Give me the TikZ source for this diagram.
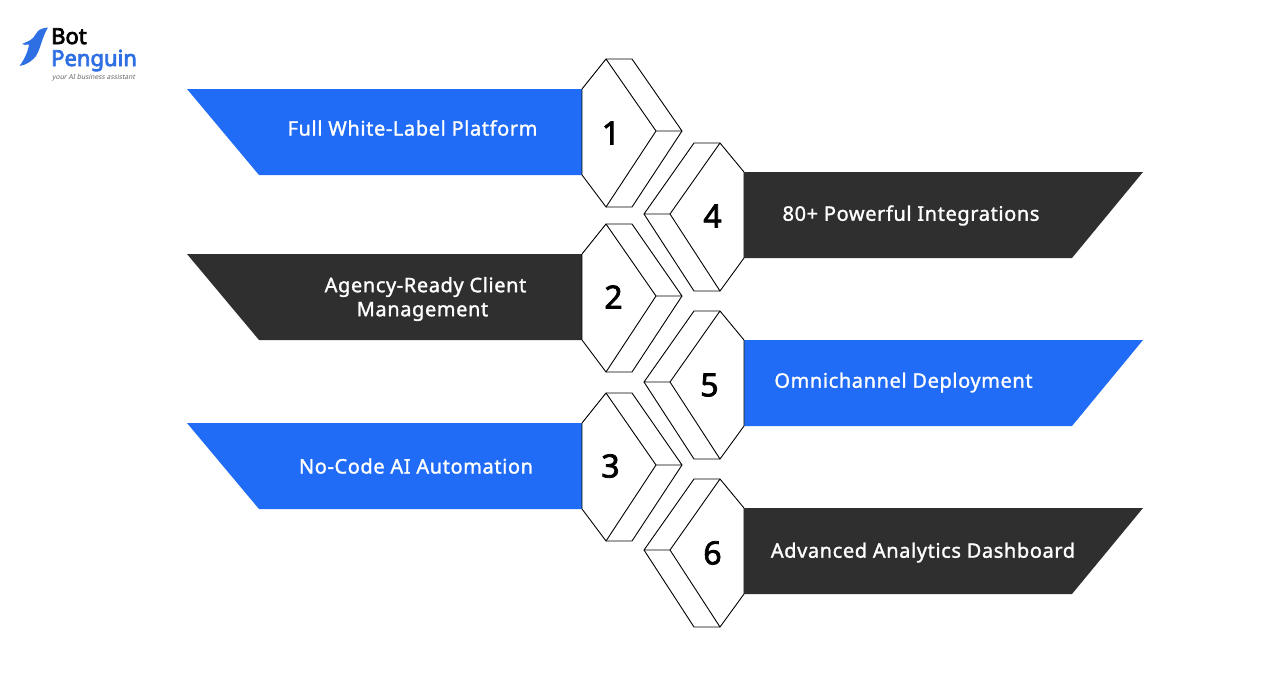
\documentclass[tikz,border=0pt]{standalone}
\usepackage{fontspec}
\setmainfont{Noto Sans}
\newfontfamily\medfont[FakeBold=1.4,LetterSpace=3]{Noto Sans}
\newfontfamily\numfont[FakeBold=2.4]{Noto Sans}
\newfontfamily\logofont[FakeBold=3.4]{Noto Sans}
\newfontfamily\tagfont[FakeSlant=0.2]{Noto Sans}
\definecolor{bpblue}{HTML}{206CF6}
\definecolor{bpdark}{HTML}{2F2F2F}
\definecolor{logoblue}{HTML}{2F6FE4}
\tikzset{
  bannerfill/.style={fill=#1,draw=none},
  hexline/.style={draw=black,line width=0.9pt,line join=round,fill=white},
  bantext/.style={text=white,font=\fontsize{20}{24}\selectfont\medfont,align=center,inner sep=0pt},
  numtext/.style={text=black,font=\fontsize{32}{36}\selectfont\numfont,inner sep=0pt},
}
\newcommand{\leftrow}[2]{%
  \begin{scope}[yshift=-#1pt]
    \path[bannerfill=#2] (187,89) -- (582,89) -- (582,175) -- (259,175) -- cycle;
    \draw[hexline] (582,89) -- (606,59) -- (632,59) -- (682,131) -- (656,131) -- (606,207) -- (582,175) -- cycle;
    \draw[hexline,fill=none] (606,59) -- (656,131);
    \draw[hexline,fill=none] (606,207) -- (632,207) -- (682,131);
  \end{scope}}
\newcommand{\rightrow}[2]{%
  \begin{scope}[yshift=-#1pt]
    \path[bannerfill=#2] (744,172) -- (1143,172) -- (1072,258) -- (744,258) -- cycle;
    \draw[hexline] (744,172) -- (720,143) -- (694,143) -- (644,214) -- (670,214) -- (720,291) -- (744,258) -- cycle;
    \draw[hexline,fill=none] (720,143) -- (670,214);
    \draw[hexline,fill=none] (720,291) -- (694,291) -- (644,214);
  \end{scope}}
\begin{document}
\begin{tikzpicture}[x=1pt,y=-1pt]
\useasboundingbox (0,0) rectangle (1288,686);
\fill[white] (0,0) rectangle (1288,686);
\leftrow{0}{bpblue}
\leftrow{165}{bpdark}
\leftrow{334}{bpblue}
\rightrow{0}{bpdark}
\rightrow{168}{bpblue}
\rightrow{336}{bpdark}
\node[numtext] (n1) at (611,133) {1};
\node[numtext] (n2) at (613.5,297) {2};
\node[numtext] (n3) at (610.5,466) {3};
\node[numtext] (n4) at (712.5,216) {4};
\node[numtext] (n5) at (709.5,385) {5};
\node[numtext] (n6) at (712.5,553) {6};
\node[bantext] (t1) at (412.5,128) {Full White-Label Platform};
\node[bantext] (t2) at (425.5,299) {Agency-Ready Client\\Management\hspace*{6pt}};
\node[bantext] (t3) at (416,466) {No-Code AI Automation};
\node[bantext] (t4) at (911,215.5) {80+ Powerful Integrations};
\node[bantext] (t5) at (903.5,382.5) {Omnichannel Deployment};
\node[bantext] (t6) at (923,552.5) {Advanced Analytics Dashboard};
\fill[logoblue] (48,27.5) .. controls (44,28) and (40,29) .. (38,31) .. controls (36,33) and (35,36) .. (33,38) .. controls (30,41) and (26,42) .. (22,44) .. controls (24,45) and (27,45) .. (29,44.5) .. controls (28,52) and (24,60) .. (19.5,66) .. controls (27,65) and (33,60) .. (36,56) .. controls (41,48) and (42,37) .. (48,27.5) -- cycle;
\node[inner sep=0pt,anchor=base west,font=\fontsize{22}{22}\selectfont\logofont,text=black] (bot) at (51,44) {Bot};
\node[inner sep=0pt,anchor=base west,font=\fontsize{22}{22}\selectfont\logofont,text=logoblue] (pen) at (51,66) {Penguin};
\node[inner sep=0pt,anchor=base west,font=\fontsize{6.8}{7}\selectfont\tagfont,text=black!60] (tag) at (52,79) {your AI business assistant};
\end{tikzpicture}
\end{document}
